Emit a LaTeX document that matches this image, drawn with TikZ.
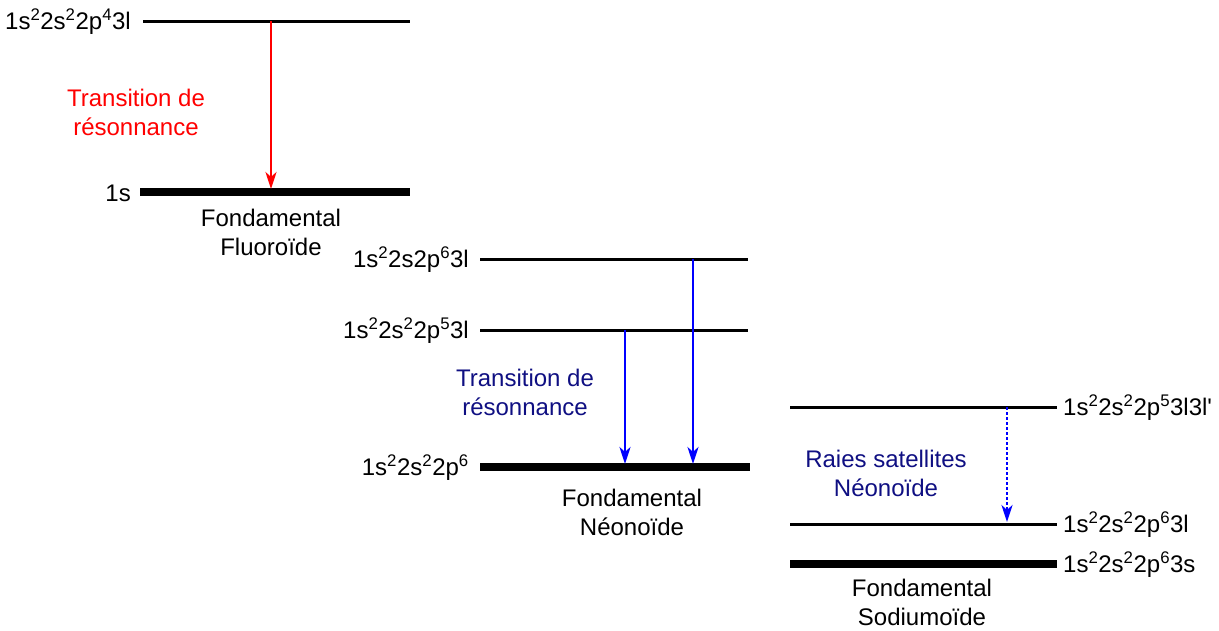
\documentclass[tikz,border=0pt]{standalone}
\usepackage{fontspec}
\setmainfont{Liberation Sans}
\usetikzlibrary{arrows.meta}
\definecolor{navy}{RGB}{15,15,130}
\begin{document}
\begin{tikzpicture}[x=1pt,y=-1pt,
  lvl/.style={line width=3pt},
  gnd/.style={line width=8pt},
  lab/.style={font=\fontsize{24}{28}\selectfont, inner sep=0pt},
  cap2/.style={font=\fontsize{24}{29}\selectfont, align=center, inner sep=0pt},
  tr/.style={line width=2.5pt, -{Stealth[length=17pt,width=11pt,inset=5pt]}},
]
\useasboundingbox (0,0) rectangle (1219,630);
% Fluoroide
\coordinate (fa1) at (143,21); \coordinate (fa2) at (410,21);
\coordinate (fg1) at (140,192); \coordinate (fg2) at (410,192);
\draw[lvl] (fa1) -- (fa2);
\draw[gnd] (fg1) -- (fg2);
\node[lab, anchor=east] (lfa) at (131,22) {1s\textsuperscript{2}2s\textsuperscript{2}2p\textsuperscript{4}3l};
\node[lab, anchor=east] (lfg) at (131,193) {1s};
\coordinate (ra1) at (271,21); \coordinate (ra2) at (271,189);
\draw[tr, red] (ra1) -- (ra2);
\node[cap2, red] (tf) at (136,112) {Transition de\\résonnance};
\node[cap2] (ff) at (271,232) {Fondamental\\Fluoroïde};
% Neonoide
\coordinate (nb1) at (480,259); \coordinate (nb2) at (748,259);
\coordinate (na1) at (480,330); \coordinate (na2) at (748,330);
\coordinate (ng1) at (480,467); \coordinate (ng2) at (750,467);
\draw[lvl] (nb1) -- (nb2);
\draw[lvl] (na1) -- (na2);
\draw[gnd] (ng1) -- (ng2);
\node[lab, anchor=east] (lnb) at (469,260) {1s\textsuperscript{2}2s2p\textsuperscript{6}3l};
\node[lab, anchor=east] (lna) at (469,331) {1s\textsuperscript{2}2s\textsuperscript{2}2p\textsuperscript{5}3l};
\node[lab, anchor=east] (lng) at (469,468) {1s\textsuperscript{2}2s\textsuperscript{2}2p\textsuperscript{6}};
\coordinate (a1) at (625,330); \coordinate (a2) at (625,464);
\coordinate (b1) at (693,259); \coordinate (b2) at (693,464);
\draw[tr, blue] (a1) -- (a2);
\draw[tr, blue] (b1) -- (b2);
\node[cap2, navy] (tn) at (525,392) {Transition de\\résonnance};
\node[cap2] (fn) at (632,512) {Fondamental\\Néonoïde};
% Sodiumoide
\coordinate (sa1) at (790,407); \coordinate (sa2) at (1057,407);
\coordinate (sb1) at (790,524); \coordinate (sb2) at (1057,524);
\coordinate (sg1) at (790,564); \coordinate (sg2) at (1057,564);
\draw[lvl] (sa1) -- (sa2);
\draw[lvl] (sb1) -- (sb2);
\draw[gnd] (sg1) -- (sg2);
\node[lab, anchor=west] (lsa) at (1063,408) {1s\textsuperscript{2}2s\textsuperscript{2}2p\textsuperscript{5}3l3l\textquotesingle};
\node[lab, anchor=west] (lsb) at (1063,525) {1s\textsuperscript{2}2s\textsuperscript{2}2p\textsuperscript{6}3l};
\node[lab, anchor=west] (lsg) at (1063,565) {1s\textsuperscript{2}2s\textsuperscript{2}2p\textsuperscript{6}3s};
\coordinate (d1) at (1007,407); \coordinate (d2) at (1007,522);
\draw[tr, blue, dash pattern=on 2.5pt off 2.5pt] (d1) -- (d2);
\node[cap2, navy] (rs) at (886,473) {Raies satellites\\Néonoïde};
\node[cap2] (fs) at (922,602) {Fondamental\\Sodiumoïde};
\end{tikzpicture}
\end{document}
